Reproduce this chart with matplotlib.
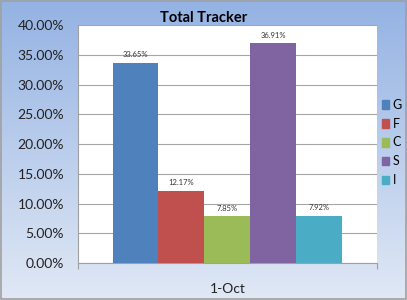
import numpy as np
import matplotlib.pyplot as plt
from matplotlib.ticker import FuncFormatter

categories = ["G", "F", "C", "S", "I"]
values = [33.65, 12.17, 7.85, 36.91, 7.92]
colors = ["#4f81bd", "#c0504d", "#9bbb59", "#8064a2", "#4bacc6"]
yticks = [0, 5, 10, 15, 20, 25, 30, 35, 40]
group_label = "1-Oct"

plt.rcParams['font.family'] = ['Lato', 'DejaVu Sans']

fig = plt.figure(figsize=(4.07, 3.0), dpi=100)

# gradient background
bg = fig.add_axes([0, 0, 1, 1], zorder=-10)
grad = np.linspace(0, 1, 256).reshape(-1, 1)
top = np.array([0.58, 0.70, 0.89])
bot = np.array([0.88, 0.91, 0.96])
img = top + (bot - top) * grad[..., None]
bg.imshow(img, aspect='auto', extent=[0, 1, 0, 1])
bg.add_patch(plt.Rectangle((0.002, 0.004), 0.996, 0.992, fill=False,
                           edgecolor='#a0a0a0', lw=1.2))
bg.set_xlim(0, 1)
bg.set_ylim(0, 1)
bg.axis('off')

ax = fig.add_axes([0.1916, 0.123, 0.7346, 0.7937])
ax.set_facecolor('white')
w = 0.1538
pos = (np.arange(len(values)) - 2) * w
bars = ax.bar(pos, values, width=w, color=colors, zorder=3, label=categories)
for p, v in zip(pos, values):
    ax.text(p, v + 0.8, f"{v:.2f}%", ha='center', va='bottom', fontsize=5.5,
            color='#333333', zorder=4)

ax.set_xlim(-0.5, 0.5)
ax.set_ylim(0, 40)
ax.set_yticks(yticks)
ax.yaxis.set_major_formatter(FuncFormatter(lambda v, _: f"{v:.2f}%"))
ax.yaxis.grid(True, color='#a6a6a6', lw=0.8, zorder=0)
ax.tick_params(axis='y', length=0, labelsize=10, colors='#222222', pad=10)
ax.set_xticks([-0.5, 0.5])
ax.set_xticklabels([])
ax.tick_params(axis='x', length=4, color='#a0a0a0', direction='out')
ax.text(0, -3.3, group_label, ha='center', va='top', fontsize=10, color='#222222')
for s in ['top', 'right']:
    ax.spines[s].set_visible(False)
ax.spines['left'].set_color('#a0a0a0')
ax.spines['bottom'].set_color('#a0a0a0')
fig.text(0.5, 0.94, "Total Tracker", ha='center', va='center', fontsize=10.5,
         fontweight='bold', color='black')

handles = [plt.Rectangle((0, 0), 1, 1, color=c) for c in colors]
fig.legend(handles, categories, loc='center left', bbox_to_anchor=(0.938, 0.525),
           frameon=False, fontsize=9, handlelength=0.6, handleheight=0.7,
           handletextpad=0.25, labelspacing=0.55, borderpad=0, borderaxespad=0)

fig.savefig("out.png", dpi=100)
